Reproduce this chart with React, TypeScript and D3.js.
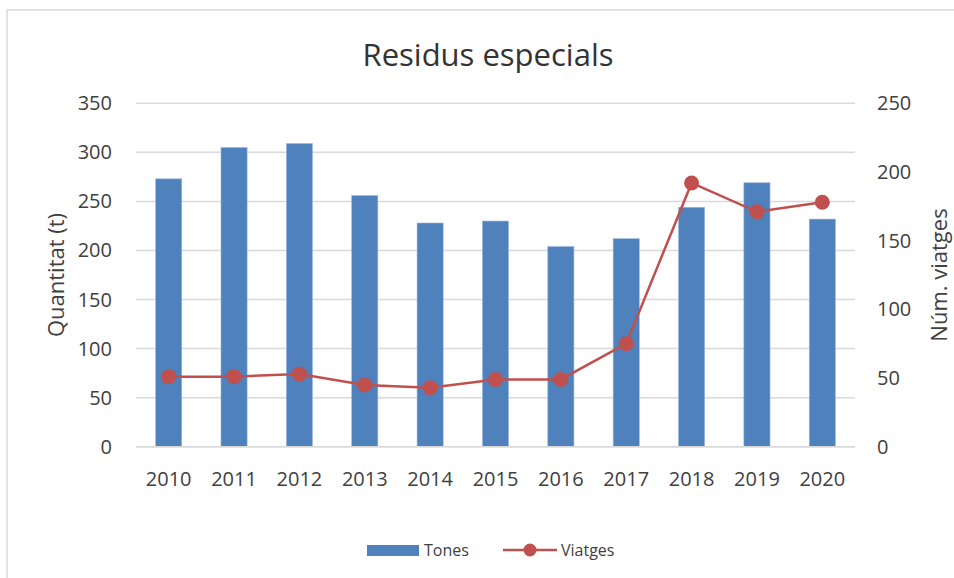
import React from "react";
import * as d3 from "d3";

const years = ["2010", "2011", "2012", "2013", "2014", "2015", "2016", "2017", "2018", "2019", "2020"];
const tones = [273, 305, 309, 256, 228, 230, 204, 212, 244, 269, 232];
const viatges = [51, 51, 53, 45, 43, 49, 49, 75, 192, 171, 178];
const leftTicks = [0, 50, 100, 150, 200, 250, 300, 350];
const rightTicks = [0, 50, 100, 150, 200, 250];

const W = 954, H = 578;
const M = { left: 136, right: 855, top: 103.3, bottom: 446.7 };
const FONT = "'Open Sans', 'Noto Sans', sans-serif";
const TXT = "#404040";

export default function App() {
  const band = d3.scaleBand<string>().domain(years).range([M.left, M.right]);
  const yL = d3.scaleLinear().domain([0, 350]).range([M.bottom, M.top]);
  const yR = d3.scaleLinear().domain([0, 250]).range([M.bottom, M.top]);
  const cx = (d: string) => (band(d) as number) + band.bandwidth() / 2;
  const line = d3.line<number>().x((_, i) => cx(years[i])).y((v) => yR(v));
  const bw = band.bandwidth() * 0.4;

  return (
    <svg width={W} height={H} style={{ position: "absolute", left: 0, top: 0, background: "#fff" }} fontFamily={FONT}>
      <rect x={7} y={10} width={W} height={H} fill="#fff" stroke="#D9D9D9" strokeWidth={1.5} />
      <text x={488} y={66} textAnchor="middle" fontSize={31} fill="#333">Residus especials</text>
      {leftTicks.map((t) => (
        <g key={"g" + t}>
          <line x1={M.left} x2={M.right} y1={yL(t)} y2={yL(t)} stroke="#D9D9D9" strokeWidth={1.5} />
          <text x={112} y={yL(t)} dy="0.35em" textAnchor="end" fontSize={20} fill={TXT}>{t}</text>
        </g>
      ))}
      {rightTicks.map((t) => (
        <text key={"r" + t} x={877} y={yR(t)} dy="0.35em" textAnchor="start" fontSize={20} fill={TXT}>{t}</text>
      ))}
      {years.map((yr, i) => (
        <rect key={yr} x={cx(yr) - bw / 2} y={yL(tones[i])} width={bw} height={yL(0) - yL(tones[i])} fill="#4F81BD" stroke="#9DB9DD" strokeWidth={0.6} />
      ))}
      <line x1={M.left} x2={M.right} y1={yL(0)} y2={yL(0)} stroke="#D9D9D9" strokeWidth={1.5} />
      <path d={line(viatges) || ""} fill="none" stroke="#C0504D" strokeWidth={2.5} />
      {viatges.map((v, i) => (
        <circle key={i} cx={cx(years[i])} cy={yR(v)} r={7.5} fill="#C0504D" />
      ))}
      {years.map((yr) => (
        <text key={"x" + yr} x={cx(yr)} y={486} textAnchor="middle" fontSize={20} fill={TXT}>{yr}</text>
      ))}
      <text transform={`translate(64,275) rotate(-90)`} textAnchor="middle" fontSize={22} fill={TXT}>Quantitat (t)</text>
      <text transform={`translate(947,275) rotate(-90)`} textAnchor="middle" fontSize={22} fill={TXT}>Núm. viatges</text>
      <rect x={367} y={545} width={52} height={11} fill="#4F81BD" />
      <text x={424} y={556} fontSize={16} fill={TXT}>Tones</text>
      <line x1={503} x2={557} y1={550} y2={550} stroke="#C0504D" strokeWidth={2.5} />
      <circle cx={530} cy={550} r={6.5} fill="#C0504D" />
      <text x={561} y={556} fontSize={16} fill={TXT}>Viatges</text>
    </svg>
  );
}
